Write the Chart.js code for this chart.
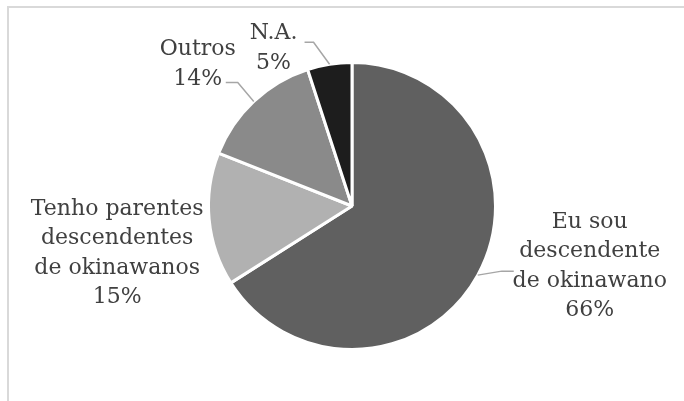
<!DOCTYPE html>
<html>
<head>
<meta charset="utf-8">
<script src="https://cdn.jsdelivr.net/npm/chart.js@4"></script>
<style>
  html, body { margin: 0; padding: 0; background: #fff; overflow: hidden; }
  #wrap { width: 684px; height: 401px; position: relative; }
</style>
</head>
<body>
<div id="wrap"><canvas id="pieChart" width="684" height="401"></canvas></div>
<script>
// data
const categories = [
    ['Eu sou', 'descendente', 'de okinawano'],
    ['Tenho parentes', 'descendentes', 'de okinawanos'],
    ['Outros'],
    ['N.A.']
];
const shares = [66, 15, 14, 5];
const sliceColors = ['#606060', '#b1b1b1', '#8a8a8a', '#1d1d1d'];

// label placement relative to the slice's outer edge (text centre, leader end, elbow)
const labelStyle = [
    { dx: 112, dy: -9, leader: { ex: 36, ey: -4, elbow: 24 } },
    { dx: -92, dy: 34, leader: null },
    { dx: -56, dy: -37, leader: { ex: -28, ey: -19, elbow: -16 } },
    { dx: -56, dy: -16, leader: { ex: -25, ey: -22, elbow: -16 } }
];

const frame = {
    id: 'frame',
    beforeDraw(chart) {
        const c = chart.ctx;
        c.save();
        c.strokeStyle = '#d9d9d9';
        c.lineWidth = 2;
        c.beginPath();
        c.moveTo(8, 410);
        c.lineTo(8, 7);
        c.lineTo(700, 7);
        c.stroke();
        c.restore();
    }
};

const outsideLabels = {
    id: 'outsideLabels',
    afterDatasetsDraw(chart) {
        const c = chart.ctx;
        const meta = chart.getDatasetMeta(0);
        const lineH = 29.5;
        c.save();
        c.font = '22px "DejaVu Serif"';
        c.textAlign = 'center';
        c.textBaseline = 'middle';
        meta.data.forEach((arc, i) => {
            const mid = (arc.startAngle + arc.endAngle) / 2;
            const ex = arc.x + Math.cos(mid) * arc.outerRadius;
            const ey = arc.y + Math.sin(mid) * arc.outerRadius;
            const st = labelStyle[i];
            if (st.leader) {
                const l = st.leader;
                c.strokeStyle = '#a6a6a6';
                c.lineWidth = 1.5;
                c.beginPath();
                c.moveTo(ex, ey);
                c.lineTo(ex + l.elbow, ey + l.ey);
                c.lineTo(ex + l.ex, ey + l.ey);
                c.stroke();
            }
            const lines = categories[i].concat([shares[i] + '%']);
            const cx = ex + st.dx;
            const top = ey + st.dy - (lines.length - 1) * lineH / 2;
            c.fillStyle = '#404040';
            lines.forEach((t, k) => c.fillText(t, cx, top + k * lineH));
        });
        c.restore();
    }
};

new Chart(document.getElementById('pieChart').getContext('2d'), {
    type: 'pie',
    data: {
        labels: categories.map(l => l.join(' ')),
        datasets: [{
            data: shares,
            backgroundColor: sliceColors,
            borderColor: '#ffffff',
            borderWidth: 3
        }]
    },
    options: {
        responsive: false,
        animation: false,
        layout: { padding: { left: 206, right: 186, top: 61, bottom: 50 } },
        plugins: {
            legend: { display: false },
            tooltip: { enabled: false }
        }
    },
    plugins: [frame, outsideLabels]
});
</script>
</body>
</html>
